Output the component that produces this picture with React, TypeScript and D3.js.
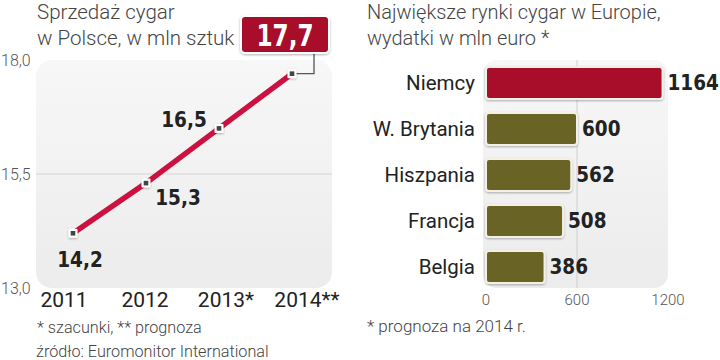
import React from "react";
import * as d3 from "d3";

const years = ["2011", "2012", "2013*", "2014**"];
const sales = [14.2, 15.3, 16.5, 17.7];
const salesLabels = ["14,2", "15,3", "16,5", "17,7"];
const yTicks = [13.0, 15.5, 18.0];
const yTickLabels = ["13,0", "15,5", "18,0"];

const countries = ["Niemcy", "W. Brytania", "Hiszpania", "Francja", "Belgia"];
const spending = [1164, 600, 562, 508, 386];
const xTicks = [0, 600, 1200];

const RED = "#a80f2c";
const LINE = "#cc1140";
const OLIVE = "#6b6427";
const BOLD = "'DejaVu Sans Condensed', 'DejaVu Sans', sans-serif";
const SANS = "Roboto, 'Noto Sans', sans-serif";

export default function App() {
  const y = d3.scaleLinear().domain([13, 18]).range([288, 60]);
  const x = d3.scalePoint<string>().domain(years).range([73, 292]);
  const xl = d3.scalePoint<string>().domain(years).range([64, 307]);
  const line = d3
    .line<number>()
    .x((_, i) => x(years[i])!)
    .y((d) => y(d));

  const bx = d3.scaleLinear().domain([0, 1200]).range([486, 668]);
  const by = d3
    .scaleBand<string>()
    .domain(countries)
    .range([60, 290])
    .paddingInner(0.3)
    .paddingOuter(0.15);

  const last = sales.length - 1;
  const px = x(years[last])!;
  const py = y(sales[last]);

  return (
    <svg
      width={720}
      height={360}
      style={{ position: "absolute", left: 0, top: 0, background: "#fff" }}
    >
      <defs>
        <linearGradient id="bg" x1="0" y1="0" x2="0" y2="1">
          <stop offset="0" stopColor="#f7f7f7" />
          <stop offset="1" stopColor="#ececec" />
        </linearGradient>
        <filter id="sh" x="-10%" y="-20%" width="120%" height="150%">
          <feDropShadow dx="0" dy="1" stdDeviation="1" floodColor="#000" floodOpacity="0.3" />
        </filter>
      </defs>

      {/* Left chart */}
      <text x={37} y={19} fontFamily={SANS} fontWeight={300} fontSize={20.5} fill="#444">
        Sprzedaż cygar
      </text>
      <text x={37} y={45} fontFamily={SANS} fontWeight={300} fontSize={20.5} fill="#444">
        w Polsce, w mln sztuk
      </text>
      <rect x={36} y={60} width={296} height={228} rx={16} fill="url(#bg)" />
      <line x1={36} x2={332} y1={y(15.5)} y2={y(15.5)} stroke="#d4d4d4" strokeWidth={1} />
      {yTicks.map((t, i) => (
        <text
          key={t}
          x={1}
          y={y(t)}
          dy="0.35em"
          fontFamily={SANS}
          fontWeight={300}
          fontSize={16}
          fill="#555"
        >
          {yTickLabels[i]}
        </text>
      ))}
      {years.map((yr) => (
        <text
          key={yr}
          x={xl(yr)}
          y={307}
          textAnchor="middle"
          fontFamily={SANS}
          fontSize={21}
          fill="#222"
        >
          {yr}
        </text>
      ))}
      <path d={line(sales)!} fill="none" stroke={LINE} strokeWidth={5.5} />
      <polyline
        points={`${px + 2},${py} ${px + 22},${py} ${px + 22},53`}
        fill="none"
        stroke="#555"
        strokeWidth={1.3}
      />
      {sales.map((v, i) => (
        <g key={i} transform={`translate(${x(years[i])},${y(v)})`}>
          <rect x={-4.5} y={-4.5} width={9} height={9} rx={1} fill="#fff" filter="url(#sh)" />
          <rect x={-2.3} y={-2.3} width={4.6} height={4.6} fill="#444" />
        </g>
      ))}
      <text x={80} y={267} textAnchor="middle" fontFamily={BOLD} fontWeight={700} fontSize={20.5} fill="#222">
        {salesLabels[0]}
      </text>
      <text x={178} y={205} textAnchor="middle" fontFamily={BOLD} fontWeight={700} fontSize={20.5} fill="#222">
        {salesLabels[1]}
      </text>
      <text x={184} y={127} textAnchor="middle" fontFamily={BOLD} fontWeight={700} fontSize={20.5} fill="#222">
        {salesLabels[2]}
      </text>
      <rect x={241} y={16} width={88} height={37} rx={4} fill={RED} stroke="#fff" strokeWidth={2} filter="url(#sh)" />
      <text
        x={285}
        y={46}
        textAnchor="middle"
        fontFamily={BOLD}
        fontWeight={700}
        fontSize={31}
        fill="#fff"
        textLength={57}
        lengthAdjust="spacingAndGlyphs"
      >
        {salesLabels[3]}
      </text>
      <text x={37} y={333} fontFamily={SANS} fontWeight={300} fontSize={16.2} fill="#444">
        * szacunki, ** prognoza
      </text>
      <text x={36} y={357} fontFamily={SANS} fontWeight={300} fontSize={16.2} fill="#444">
        źródło: Euromonitor International
      </text>

      {/* Right chart */}
      <text x={367} y={19} fontFamily={SANS} fontWeight={300} fontSize={20} fill="#444">
        Największe rynki cygar w Europie,
      </text>
      <text x={367} y={45} fontFamily={SANS} fontWeight={300} fontSize={20} fill="#444">
        wydatki w mln euro *
      </text>
      <rect x={483} y={60} width={185} height={228} rx={14} fill="url(#bg)" />
      <line x1={bx(600)} x2={bx(600)} y1={60} y2={288} stroke="#cfcfcf" strokeWidth={1} />
      {countries.map((c, i) => (
        <g key={c}>
          <rect
            x={bx(0)}
            y={by(c)!}
            width={bx(spending[i]) - bx(0)}
            height={by.bandwidth()}
            rx={3}
            fill={i === 0 ? RED : OLIVE}
            stroke="#f4f0e6"
            strokeWidth={2}
            filter="url(#sh)"
          />
          <text
            x={475}
            y={by(c)! + by.bandwidth() / 2}
            dy="0.35em"
            textAnchor="end"
            fontFamily={SANS}
            fontSize={20.5}
            fill="#222"
          >
            {c}
          </text>
          <text
            x={bx(spending[i]) + 5}
            y={by(c)! + by.bandwidth() / 2}
            dy="0.36em"
            fontFamily={BOLD}
            fontWeight={700}
            fontSize={20.5}
            fill="#222"
          >
            {spending[i]}
          </text>
        </g>
      ))}
      {xTicks.map((t) => (
        <text
          key={t}
          x={bx(t)}
          y={300}
          dy="0.35em"
          textAnchor="middle"
          fontFamily={SANS}
          fontWeight={300}
          fontSize={15}
          fill="#555"
        >
          {t}
        </text>
      ))}
      <text x={367} y={332} fontFamily={SANS} fontWeight={300} fontSize={17} fill="#444">
        * prognoza na 2014 r.
      </text>
    </svg>
  );
}
